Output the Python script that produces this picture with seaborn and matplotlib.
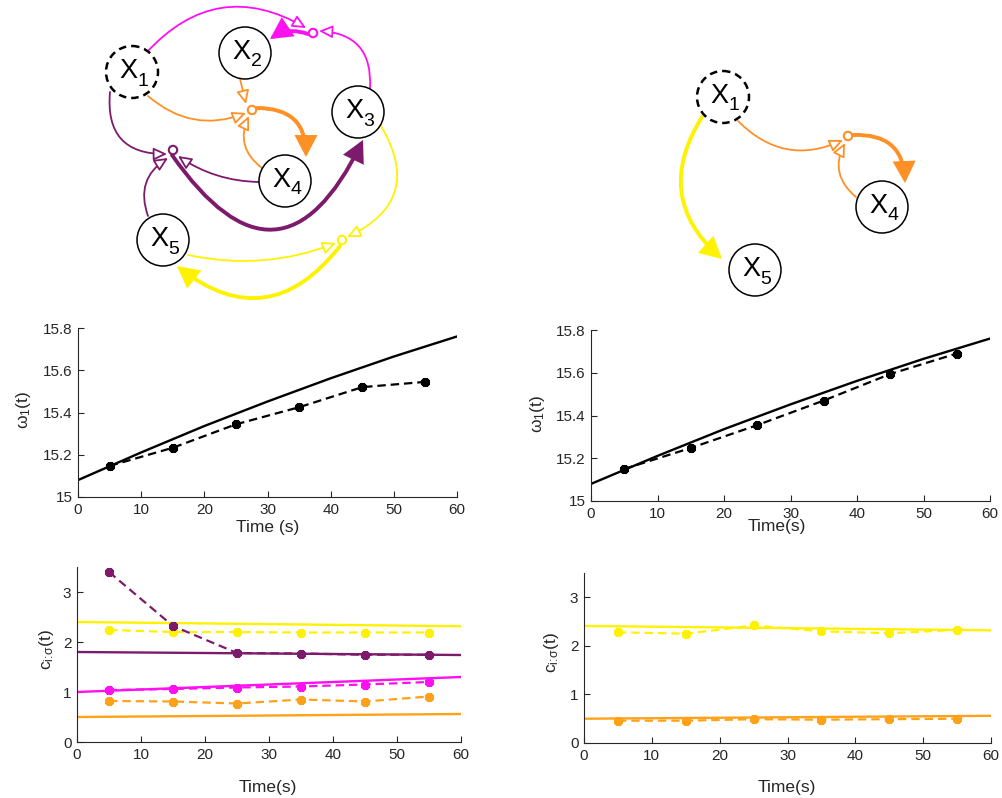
import matplotlib
matplotlib.use("Agg")
import matplotlib.pyplot as plt
import seaborn as sns
from matplotlib.patches import Circle, FancyArrowPatch
from matplotlib.ticker import FuncFormatter

# ---------------- data ----------------
t_model = [0, 10, 20, 30, 40, 50, 60]
t_est = [5, 15, 25, 35, 45, 55]

omega_model = [15.08, 15.211, 15.336, 15.452, 15.562, 15.665, 15.76]
omega_est_full = [15.147, 15.233, 15.344, 15.425, 15.52, 15.545]
omega_est_reduced = [15.15, 15.248, 15.355, 15.47, 15.594, 15.69]

# full network coefficients (model: start/end, estimate at t_est)
t_line = [0, 60]
c_yellow_model = [2.40, 2.315]
c_yellow_est = [2.24, 2.20, 2.20, 2.19, 2.19, 2.19]
c_purple_model = [1.80, 1.74]
c_purple_est = [3.40, 2.32, 1.78, 1.77, 1.745, 1.745]
c_magenta_model = [1.00, 1.30]
c_magenta_est = [1.04, 1.06, 1.09, 1.11, 1.15, 1.20]
c_orange_model = [0.50, 0.56]
c_orange_est = [0.82, 0.81, 0.77, 0.85, 0.81, 0.91]

# reduced network coefficients
r_yellow_model = [2.41, 2.32]
r_yellow_est = [2.28, 2.25, 2.42, 2.30, 2.26, 2.33]
r_orange_model = [0.50, 0.56]
r_orange_est = [0.46, 0.46, 0.49, 0.48, 0.49, 0.50]

omega_ticks = [15, 15.2, 15.4, 15.6, 15.8]
c_ticks = [0, 1, 2, 3]
time_ticks = [0, 10, 20, 30, 40, 50, 60]

# network layouts (pixel positions of nodes in the figure)
left_nodes = {"1": (132, 72), "2": (245, 53), "3": (358, 112), "4": (285, 181), "5": (163, 240)}
left_junctions = {"m": (313, 33), "o": (252, 110), "p": (173, 150), "y": (342, 240)}
right_nodes = {"1": (723, 97), "4": (882, 207), "5": (755, 270)}
right_junctions = {"o": (848, 136)}

YEL = "#FFF200"
PUR = "#7D1A6C"
MAG = "#FF10F0"
ORA = "#FFA21A"
ORA_N = "#FF9026"
AXC = "#262626"

# ---------------- style ----------------
sns.set_style("ticks")
plt.rcParams["font.family"] = ["Liberation Sans", "DejaVu Sans"]
plt.rcParams["mathtext.fontset"] = "custom"
plt.rcParams["mathtext.rm"] = "Liberation Sans"
plt.rcParams["mathtext.it"] = "Liberation Sans"
plt.rcParams["mathtext.sf"] = "Liberation Sans"
plt.rcParams["mathtext.default"] = "regular"

fig = plt.figure(figsize=(10.02, 7.98), dpi=100)

W, H = 1002, 798


def add_ax(l, r, t, b):
    return fig.add_axes([l / W, (H - b) / H, (r - l) / W, (b - t) / H])


ax_tl = add_ax(78, 457, 328, 497)
ax_bl = add_ax(77, 461, 567, 742)
ax_tr = add_ax(591, 990, 330, 501)
ax_br = add_ax(584, 991, 573, 743)

DASH = (0, (3.8, 2.2))
MK = dict(marker=(8, 2, 0), markersize=6.5, markeredgewidth=2.4)


def est(ax, x, y, color):
    sns.lineplot(x=x, y=y, ax=ax, color=color, linestyle=DASH, lw=1.6,
                 markeredgecolor=color, markerfacecolor=color, **MK)


def model(ax, x, y, color):
    sns.lineplot(x=x, y=y, ax=ax, color=color, lw=1.7)


# top panels
model(ax_tl, t_model, omega_model, "black")
est(ax_tl, t_est, omega_est_full, "black")
model(ax_tr, t_model, omega_model, "black")
est(ax_tr, t_est, omega_est_reduced, "black")

# bottom-left
for m, e, c in [(c_yellow_model, c_yellow_est, YEL), (c_purple_model, c_purple_est, PUR),
                (c_magenta_model, c_magenta_est, MAG), (c_orange_model, c_orange_est, ORA)]:
    model(ax_bl, t_line, m, c)
    est(ax_bl, t_est, e, c)

# bottom-right
for m, e, c in [(r_yellow_model, r_yellow_est, YEL), (r_orange_model, r_orange_est, ORA)]:
    model(ax_br, t_line, m, c)
    est(ax_br, t_est, e, c)

fmt = FuncFormatter(lambda v, p: f"{v:g}")
for ax in [ax_tl, ax_tr, ax_bl, ax_br]:
    ax.set_xlim(0, 60)
    ax.set_xticks(time_ticks)
    ax.xaxis.set_major_formatter(fmt)
    ax.yaxis.set_major_formatter(fmt)
    sns.despine(ax=ax)
    for s in ["left", "bottom"]:
        ax.spines[s].set_color(AXC)
        ax.spines[s].set_linewidth(0.8)
    ax.tick_params(direction="in", length=4, width=0.8, color=AXC, labelcolor=AXC,
                   labelsize=11, pad=4)
    ax.patch.set_alpha(0)

for ax in [ax_tl, ax_tr]:
    ax.set_ylim(15, 15.8)
    ax.set_yticks(omega_ticks)
    ax.set_ylabel(r"$\omega_1$(t)", fontsize=12.5, color=AXC)
for ax in [ax_bl, ax_br]:
    ax.set_ylim(0, 3.5)
    ax.set_yticks(c_ticks)
    ax.set_ylabel(r"c$_{i\!:\!\sigma}$(t)", fontsize=12.5, color=AXC)

ax_tl.set_xlabel("Time (s)", fontsize=12.5, color=AXC)
ax_tr.set_xlabel("Time(s)", fontsize=12.5, color=AXC)
ax_bl.set_xlabel("Time(s)", fontsize=12.5, color=AXC)
ax_br.set_xlabel("Time(s)", fontsize=12.5, color=AXC)

ax_tl.xaxis.set_label_coords(0.5, -0.135)
ax_tr.xaxis.set_label_coords(0.465, -0.108)
ax_bl.xaxis.set_label_coords(0.497, -0.215)
ax_br.xaxis.set_label_coords(0.499, -0.217)
ax_tl.yaxis.set_label_coords(-0.118, 0.515)
ax_tr.yaxis.set_label_coords(-0.11, 0.51)
ax_bl.yaxis.set_label_coords(-0.055, 0.53)
ax_br.yaxis.set_label_coords(-0.057, 0.53)

# ---------------- network diagrams ----------------
dax = fig.add_axes([0, 0, 1, 1], zorder=5)
dax.set_xlim(0, W)
dax.set_ylim(H, 0)
dax.axis("off")
dax.patch.set_alpha(0)


def node(p, label, dashed=False):
    dax.add_patch(Circle(p, 26, fc="white", ec="black", lw=1.1 if not dashed else 1.8,
                         ls=(0, (3, 2)) if dashed else "-", zorder=4))
    dax.text(p[0] - 4, p[1] - 1, "X", ha="center", va="center",
             fontsize=19.5, color="black", zorder=5)
    dax.text(p[0] + 11, p[1] + 9, label, ha="center", va="center",
             fontsize=14, color="black", zorder=5)


def junction(p, color):
    dax.add_patch(Circle(p, 4.2, fc="white", ec=color, lw=1.5, zorder=6))


def edge(p1, p2, rad, color, thick=False):
    if thick:
        st = "-|>,head_length=0.95,head_width=0.5"
        a = FancyArrowPatch(p1, p2, arrowstyle=st, connectionstyle=f"arc3,rad={rad}",
                            mutation_scale=12, lw=2.8, color=color, shrinkA=0, shrinkB=0,
                            joinstyle="miter", zorder=3)
    else:
        st = "-|>,head_length=0.9,head_width=0.42"
        a = FancyArrowPatch(p1, p2, arrowstyle=st, connectionstyle=f"arc3,rad={rad}",
                            mutation_scale=9, lw=1.3, ec=color, fc="white", shrinkA=0,
                            shrinkB=0, zorder=3)
    dax.add_patch(a)


# left network edges
edge((147, 52), (306, 28), -0.4, MAG)
edge((370, 88), (319, 31), 0.5, MAG)
edge((308, 34), (270, 39), 0.25, MAG, thick=True)

edge((240, 79), (246, 104), 0.0, ORA_N)
edge((148, 96), (246, 113), 0.3, ORA_N)
edge((262, 168), (249, 116), -0.4, ORA_N)
edge((257, 108), (306, 157), -0.5, ORA_N, thick=True)

edge((110, 92), (167, 154), 0.55, PUR)
edge((259, 182), (178, 156), -0.15, PUR)
edge((148, 216), (168, 158), -0.4, PUR)
edge((172, 155), (363, 140), 0.85, PUR, thick=True)

edge((381, 126), (347, 237), -0.55, YEL)
edge((188, 255), (336, 243), 0.15, YEL)
edge((340, 246), (177, 266), -0.5, YEL, thick=True)

for k, p in left_nodes.items():
    node(p, k, dashed=(k == "1"))
junction(left_junctions["m"], MAG)
junction(left_junctions["o"], ORA_N)
junction(left_junctions["p"], PUR)
junction(left_junctions["y"], YEL)

# right network edges
edge((738, 121), (843, 140), 0.35, ORA_N)
edge((856, 197), (845, 143), -0.4, ORA_N)
edge((853, 135), (905, 183), -0.5, ORA_N, thick=True)
edge((702, 117), (722, 259), 0.42, YEL, thick=True)

for k, p in right_nodes.items():
    node(p, k, dashed=(k == "1"))
junction(right_junctions["o"], ORA_N)

fig.savefig("out.png", dpi=100)
